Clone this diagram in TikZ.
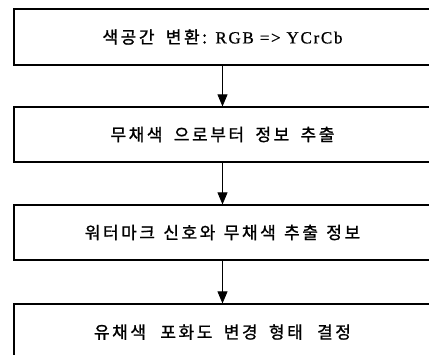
\documentclass[tikz,border=0pt]{standalone}
\usepackage{fontspec}
\setmainfont{Liberation Serif}
\newfontfamily\kr[LetterSpace=15,FakeBold=1.2]{Noto Sans CJK KR}
\newfontfamily\lat[LetterSpace=10,FakeBold=0.8]{Liberation Serif}
\usetikzlibrary{arrows.meta}
\newcommand{\ws}{\hspace{5pt}}
\newcommand{\wsb}{\hspace{8pt}}
\newcommand{\wss}{\hspace{2pt}}
\begin{document}
\begin{tikzpicture}[x=1pt,y=1pt,
  stepbox/.style={draw=black, line width=1.2pt, minimum width=417pt, inner sep=0pt, font=\kr\fontsize{17}{19}\selectfont},
  flow/.style={draw=black, line width=0.8pt, -{Triangle[length=12pt,width=10pt]}}]
\useasboundingbox (0,0) rectangle (429,-354);
\fill[white] (0,0) rectangle (429,-354);
\node[stepbox, minimum height=56pt] (b1) at (222.5,-37) {색공간\ws{} 변환: {\lat\fontsize{17}{19}\selectfont RGB => YCrCb}};
\node[stepbox, minimum height=55pt] (b2) at (222.5,-134.5) {무채색\ws{} 으로부터\ws{} 정보\ws{} 추출};
\node[stepbox, minimum height=55pt] (b3) at (222.5,-232.5) {워터마크\wss{} 신호와\wss{} 무채색\wss{} 추출\wss{} 정보};
\node[stepbox, minimum height=56pt] (b4) at (222.5,-332) {유채색\wsb{} 포화도\ws{} 변경\ws{} 형태\wsb{} 결정};
\draw[flow] (b1.south) -- (b2.north);
\draw[flow] (b2.south) -- (b3.north);
\draw[flow] (b3.south) -- (b4.north);
\end{tikzpicture}
\end{document}
